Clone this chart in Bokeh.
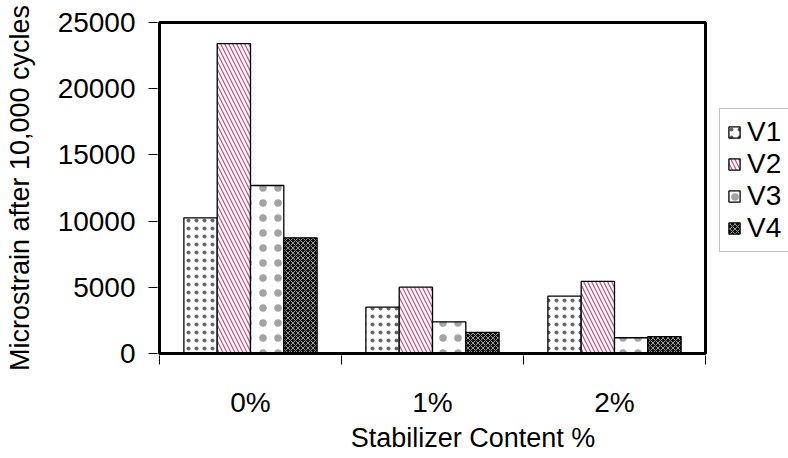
from bokeh.plotting import figure
from bokeh.models import (FixedTicker, Range1d, Legend, LegendItem, ColumnDataSource,
                          BoxAnnotation)
from bokeh.embed import file_html
from bokeh.resources import INLINE

categories = ["0%", "1%", "2%"]
series = ["V1", "V2", "V3", "V4"]
V1 = [10250, 3500, 4330]
V2 = [23400, 5010, 5440]
V3 = [12690, 2390, 1190]
V4 = [8740, 1590, 1280]
y_ticks = [0, 5000, 10000, 15000, 20000, 25000]

values = {"V1": V1, "V2": V2, "V3": V3, "V4": V4}

FONT = "Liberation Sans"

# layout: plot box 159..705 x 22..353 px; frame widened to the right so the legend can sit outside the box
ncat = len(categories)
ymax = y_ticks[-1]
px_x = ncat / 546.0
px_y = ymax / 331.0
pad = 2
x_range = Range1d(-pad * px_x, (788 - 159) * px_x)
y_range = Range1d(-pad * px_y, ymax + pad * px_y)

p = figure(width=788, height=458, output_backend="svg", toolbar_location=None,
           x_range=x_range, y_range=y_range,
           min_border_left=159 - pad, min_border_right=0, min_border_top=22 - pad,
           min_border_bottom=458 - 353 - pad)
p.background_fill_color = "white"
p.border_fill_color = "white"
p.grid.visible = False
p.outline_line_color = None

styles = {
    "V1": dict(fill_color="white", hatch_pattern="dot", hatch_color="#333333",
               hatch_scale=8, hatch_weight=0.3, hatch_alpha=0.75),
    "V2": dict(fill_color="white", hatch_pattern="left_diagonal_line", hatch_color="#c0588a",
               hatch_scale=8, hatch_weight=1.3),
    "V3": dict(fill_color="white", hatch_pattern="dot", hatch_color="#333333",
               hatch_scale=15, hatch_weight=0.2, hatch_alpha=0.45),
    "V4": dict(fill_color="#111111", hatch_pattern="diagonal_cross", hatch_color="#999999",
               hatch_scale=5, hatch_weight=1.0),
}
offsets = [-0.2745, -0.0915, 0.0915, 0.2745]
bw = 0.183

items = []
for s, off in zip(series, offsets):
    src = ColumnDataSource(dict(x=[i + 0.5 + off for i in range(ncat)], top=values[s]))
    r = p.vbar(x="x", top="top", width=bw, bottom=0, source=src,
               line_color="black", line_width=1.3, **styles[s])
    items.append(LegendItem(label=s, renderers=[r]))

# plot-area border
p.add_layout(BoxAnnotation(left=0, right=ncat, bottom=0, top=ymax,
                           fill_alpha=0, line_color="black", line_alpha=1.0, line_width=3))

# x axis
xa = p.xaxis[0]
xa.ticker = FixedTicker(ticks=[i + 0.5 for i in range(ncat)],
                        minor_ticks=list(range(ncat + 1)))
xa.major_label_overrides = {i + 0.5: c for i, c in enumerate(categories)}
xa.major_tick_out = 0
xa.major_tick_in = 0
xa.minor_tick_out = 9
xa.minor_tick_in = 0
xa.minor_tick_line_color = "black"
xa.axis_line_color = None
xa.major_label_standoff = 22
xa.major_label_text_font = FONT
xa.major_label_text_font_size = "28px"
xa.major_label_text_color = "black"
xa.axis_label = "Stabilizer Content %"
xa.axis_label_text_font = FONT
xa.axis_label_text_font_size = "27px"
xa.axis_label_text_font_style = "normal"
xa.axis_label_text_color = "black"
xa.axis_label_standoff = 2

ya = p.yaxis[0]
ya.ticker = FixedTicker(ticks=y_ticks, minor_ticks=[])
ya.major_tick_out = 9
ya.major_tick_in = 0
ya.axis_line_color = None
ya.major_tick_line_color = "black"
ya.major_label_standoff = 13
ya.major_label_text_font = FONT
ya.major_label_text_font_size = "28px"
ya.major_label_text_color = "black"
ya.axis_label = "Microstrain after 10,000 cycles"
ya.axis_label_text_font = FONT
ya.axis_label_text_font_size = "27px"
ya.axis_label_text_font_style = "normal"
ya.axis_label_text_color = "black"
ya.axis_label_standoff = 20

legend = Legend(items=items, location=(719 - 157, 353 + pad - 252), orientation="vertical", margin=0,
                label_text_font=FONT, label_text_font_size="28px", label_text_color="black",
                glyph_width=14, glyph_height=14, label_height=30,
                spacing=0, padding=7,
                label_standoff=6, border_line_color="#808080", border_line_width=1,
                background_fill_color="white", background_fill_alpha=1.0)
p.add_layout(legend, "center")

open("out.html", "w").write(file_html(p, INLINE))
